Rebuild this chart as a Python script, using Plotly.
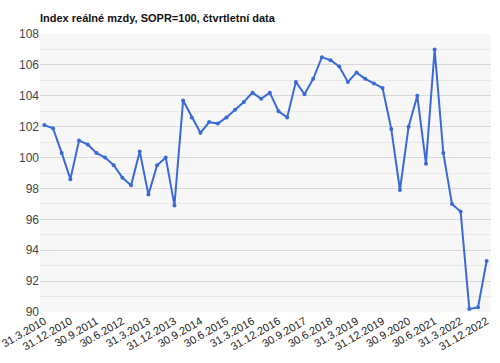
import plotly.graph_objects as go

quarters = []
for yr in range(2010, 2023):
    for d in ["31.3.", "30.6.", "30.9.", "31.12."]:
        quarters.append(f"{d}{yr}")

values = [102.1, 101.9, 100.3, 98.6, 101.1, 100.85, 100.3, 100.0, 99.5, 98.7,
          98.2, 100.4, 97.6, 99.5, 100.0, 96.9, 103.7, 102.6, 101.6, 102.3,
          102.2, 102.6, 103.1, 103.6, 104.2, 103.8, 104.2, 103.0, 102.6, 104.9,
          104.1, 105.1, 106.5, 106.3, 105.9, 104.9, 105.5, 105.1, 104.8, 104.5,
          101.85, 97.9, 102.0, 104.0, 99.6, 107.0, 100.3, 97.0, 96.5, 90.2,
          90.3, 93.3]

x_idx = list(range(len(quarters)))
tick_idx = x_idx[::3]
tick_labels = [quarters[i] for i in tick_idx]

fig = go.Figure()
fig.add_trace(go.Scatter(
    x=x_idx, y=values, mode="lines+markers",
    line=dict(color="#3a6ad6", width=2),
    marker=dict(color="#3a6ad6", size=4),
    hoverinfo="skip", showlegend=False,
))

fig.update_layout(
    width=500, height=363,
    margin=dict(l=40, r=9, t=34, b=51, autoexpand=False),
    paper_bgcolor="white",
    plot_bgcolor="#f7f7f7",
    font=dict(family="Liberation Sans, Arial, sans-serif", size=11, color="#444"),
    title=dict(text="<b>Index reálné mzdy, SOPR=100, čtvrtletní data</b>",
               x=40/500, xanchor="left", y=1-18/363, yanchor="middle",
               font=dict(size=11, color="#111")),
    xaxis=dict(range=[-0.5, 51.5], tickvals=tick_idx, ticktext=tick_labels,
               tickangle=-30, showgrid=False, zeroline=False, showline=False,
               ticks="", automargin=False, ticklabeloverflow="allow",
               tickfont=dict(size=11, color="#222")),
    yaxis=dict(range=[90, 108], dtick=2, tick0=90, showgrid=True,
               gridcolor="#d9d9d9", gridwidth=1, zeroline=False, showline=False,
               ticks="", automargin=False, ticklabeloverflow="allow",
               tickfont=dict(size=12, color="#444"),
               minor=dict(dtick=1, tick0=90, showgrid=True, gridcolor="#e8e8e8", gridwidth=1)),
)

fig.write_html("out.html", config={"displayModeBar": False, "staticPlot": True},
               post_script="document.body.style.margin='0px';")
